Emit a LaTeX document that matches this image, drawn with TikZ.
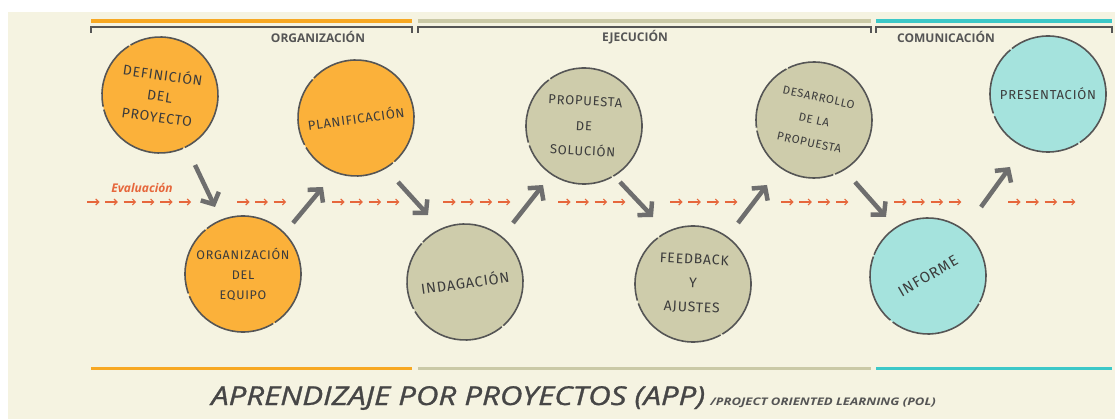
\documentclass[tikz,border=0pt]{standalone}
\usepackage{fontspec}
\usepackage{tikz}
\usepackage{xcolor}
\usetikzlibrary{positioning,arrows.meta,calc}
\setmainfont{Open Sans}
\newfontfamily\handfont[LetterSpace=6]{Fira Sans}
\definecolor{cream}{RGB}{245,243,225}
\definecolor{orgorange}{RGB}{247,168,35}
\definecolor{ejeolive}{RGB}{202,201,166}
\definecolor{comcyan}{RGB}{60,200,200}
\definecolor{fillorange}{RGB}{251,177,58}
\definecolor{fillolive}{RGB}{206,204,171}
\definecolor{fillcyan}{RGB}{165,227,221}
\definecolor{sketch}{RGB}{85,85,85}
\definecolor{ink}{RGB}{60,60,60}
\definecolor{arrowgray}{RGB}{110,110,110}
\definecolor{evalred}{RGB}{230,103,60}
\definecolor{titlegray}{RGB}{70,70,70}

\tikzset{
  stage/.style={circle, minimum size=116pt, inner sep=0pt, align=center,
    draw=sketch, line width=1.6pt,
    dash pattern=on 130pt off 2pt on 70pt off 3pt on 100pt off 2pt,
    text=ink},
  hand/.style 2 args={font=\handfont\fontsize{#1}{#2}\selectfont},
  bigarrow/.style={draw=arrowgray, line width=4.5pt, -{Straight Barb[length=9pt,width=20pt]}},
  evalarrow/.style={draw=evalred, line width=1.1pt, -{Straight Barb[length=3pt,width=6pt]}},
  phase/.style={font=\bfseries\fontsize{12}{12}\selectfont, text=sketch, inner sep=0pt},
}

\begin{document}
\begin{tikzpicture}[x=1pt,y=-1pt]
\useasboundingbox (0,0) rectangle (1115,419);
% Background
\fill[white] (0,0) rectangle (1115,419);
\fill[cream] (8,12) rectangle (1115,419);

% Phases
\foreach \a/\b/\c/\t/\xm in {91/412/orgorange/ORGANIZACIÓN/318,
    418/871/ejeolive/EJECUCIÓN/635, 876/1112/comcyan/COMUNICACIÓN/946} {
    \draw[line width=3.5pt, \c] (\a,21) -- (\b,21);
    \draw[line width=1.3pt, sketch] (\a,33) -- (\a,27) -- (\b,27) -- (\b,33);
    \draw[line width=3pt, \c] (\a,368) -- (\b,368);
    \node[phase] (lbl-\c) at (\xm,37) {\t};
}

% Evaluation line
\foreach \s/\n in {87/6, 237/3, 332/4, 443/4, 558/4, 670/4, 781/4, 894/4, 1008/4} {
    \foreach \i in {1,...,\n} {
        \draw[evalarrow] ({\s+18.3*(\i-1)},202) -- ++(12.5,0);
    }
}
\node[font=\bfseries\itshape\fontsize{12}{12}\selectfont, text=evalred] (evlbl) at (142,188) {Evaluación};

% Stages
\node[stage, fill=fillorange, hand={14}{21}, rotate=-8] (def) at (160,95) {DEFINICIÓN\\DEL\\PROYECTO};
\node[stage, fill=fillorange, hand={12.5}{20}] (orgeq) at (243,274) {ORGANIZACIÓN\\DEL\\EQUIPO};
\node[stage, fill=fillorange, hand={13}{20}, rotate=8] (plan) at (356,118) {PLANIFICACIÓN};
\node[stage, fill=fillolive, hand={14.5}{20}, rotate=8] (indag) at (465,282) {INDAGACIÓN};
\node[stage, fill=fillolive, hand={13}{25}, rotate=-3] (prop) at (584,126) {PROPUESTA\\DE\\SOLUCIÓN};
\node[stage, fill=fillolive, hand={14}{24}, rotate=-3] (feed) at (693,284) {FEEDBACK\\Y\\AJUSTES};
\node[stage, fill=fillolive, hand={11.5}{23}, rotate=-12] (desa) at (814,120) {DESARROLLO\\DE LA\\PROPUESTA};
\node[stage, fill=fillcyan, hand={15}{20}, rotate=30] (inf) at (928,276) {INFORME};
\node[stage, fill=fillcyan, hand={13}{20}] (pres) at (1048,94) {PRESENTACIÓN};

% Steps
\draw[bigarrow] ([shift={(35,70)}]def.center) -- ([shift={(-28,-67)}]orgeq.center);
\draw[bigarrow] ([shift={(50,-51)}]orgeq.center) -- ([shift={(-33,69)}]plan.center);
\draw[bigarrow] ([shift={(42,64)}]plan.center) -- ([shift={(-37,-67)}]indag.center);
\draw[bigarrow] ([shift={(48,-59)}]indag.center) -- ([shift={(-41,59)}]prop.center);
\draw[bigarrow] ([shift={(36,56)}]prop.center) -- ([shift={(-40,-67)}]feed.center);
\draw[bigarrow] ([shift={(45,-61)}]feed.center) -- ([shift={(-47,65)}]desa.center);
\draw[bigarrow] ([shift={(41,62)}]desa.center) -- ([shift={(-42,-59)}]inf.center);
\draw[bigarrow] ([shift={(53,-69)}]inf.center) -- ([shift={(-38,73)}]pres.center);

% Title
\node[anchor=base west, inner sep=0pt, text=titlegray, font=\itshape\fontsize{26}{26}\selectfont\addfontfeatures{FakeBold=1}] (title) at (211,405) {\scalebox{1.2}[1]{APRENDIZAJE POR PROYECTOS (APP)}};
\node[anchor=base west, inner sep=0pt, xshift=5pt, text=sketch, font=\bfseries\itshape\fontsize{10.5}{10}\selectfont] (subtitle) at (title.base east) {\scalebox{1.25}[1]{/PROJECT ORIENTED LEARNING (POL)}};
\end{tikzpicture}
\end{document}
